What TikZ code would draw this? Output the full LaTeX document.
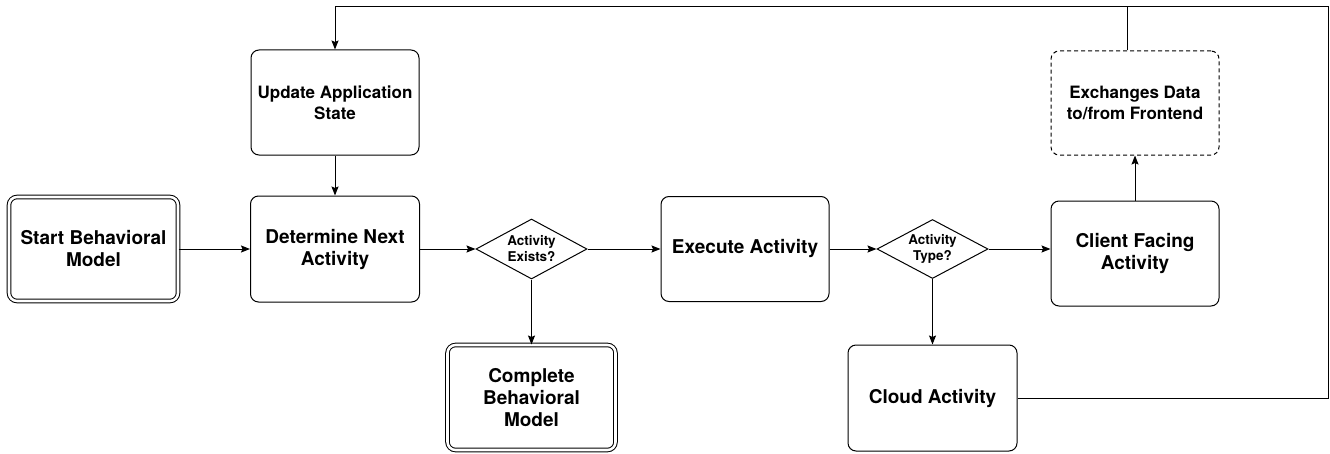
\documentclass[tikz,border=0pt]{standalone}
\usepackage{fontspec}
\setmainfont{TeX Gyre Heros}
\usetikzlibrary{arrows.meta,shapes.geometric}
\tikzset{
  box/.style={draw=black, line width=0.75pt, rounded corners=6pt, align=center, inner sep=0pt,
    font=\fontsize{14.25pt}{16.5pt}\selectfont\bfseries, minimum width=126pt, minimum height=78.75pt},
  medbox/.style={box, font=\fontsize{12.75pt}{15.75pt}\selectfont\bfseries},
  dblbox/.style={box, double, double distance=1.9pt},
  dashbox/.style={medbox, dash pattern=on 3pt off 2.25pt},
  decision/.style={draw=black, line width=0.75pt, shape=diamond, aspect=1.85, inner sep=0pt, align=center,
    minimum width=83.25pt, minimum height=45pt, font=\fontsize{10.1pt}{12pt}\selectfont\bfseries},
  arr/.style={draw=black, line width=0.75pt, -{Stealth[length=6.75pt, width=5.25pt, inset=1.1pt]}},
  ln/.style={draw=black, line width=0.75pt}
}
\begin{document}
\begin{tikzpicture}[x=0.75pt, y=-0.75pt]
\useasboundingbox (0,0) rectangle (1330,453);
\node[dblbox, minimum width=126.75pt, minimum height=78pt] (start) at (93.5,249) {Start Behavioral\\Model};
\node[box, minimum width=126.75pt, minimum height=79.5pt] (det) at (335,249) {Determine Next\\Activity};
\node[medbox] (upd) at (335,102.5) {Update Application\\State};
\node[decision] (exists) at (531.5,249) {Activity\\Exists?};
\node[box] (exec) at (745,249) {Execute Activity};
\node[decision, minimum height=44.25pt] (type) at (932.5,249) {Activity\\Type?};
\node[box] (client) at (1135,253.5) {Client Facing\\Activity};
\node[dashbox, minimum height=78pt] (exch) at (1135,103) {Exchanges Data\\to/from Frontend};
\node[dblbox] (complete) at (531.5,397.5) {Complete\\Behavioral\\Model};
\node[box, minimum width=126.75pt, minimum height=79.5pt] (cloud) at (932.5,398) {Cloud Activity};
\coordinate (rc) at (1328,7);
\coordinate (lc) at (335,7);
\draw[arr] (start.east) -- (det.west);
\draw[arr] (upd.south) -- (det.north);
\draw[arr] (det.east) -- (exists.west);
\draw[arr] (exists.east) -- (exec.west);
\draw[arr] (exists.south) -- (complete.north);
\draw[arr] (exec.east) -- (type.west);
\draw[arr] (type.east) -- (type.east -| client.west);
\draw[arr] (type.south) -- (cloud.north);
\draw[arr] (client.north) -- (exch.south);
\draw[arr] (cloud.east) -| (rc) -- (lc) -- (upd.north);
\draw[ln] ([xshift=-6pt]exch.north) -- ([xshift=-6pt]exch.north |- lc);
\end{tikzpicture}
\end{document}
